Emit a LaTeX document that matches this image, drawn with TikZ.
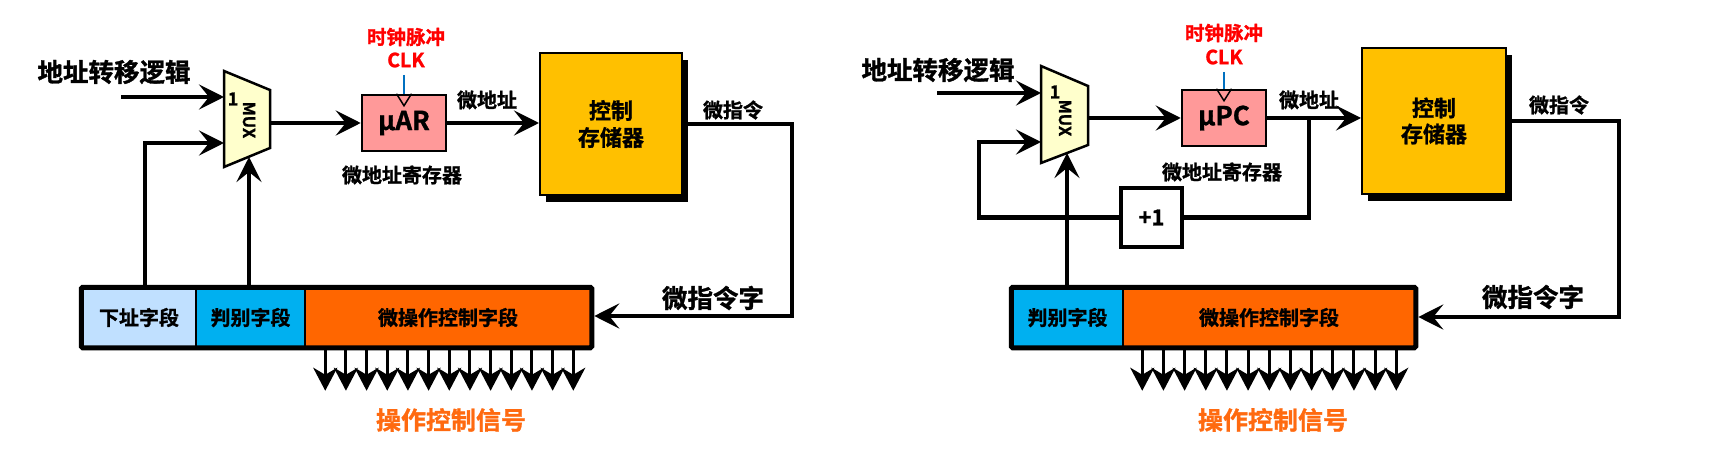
\documentclass[tikz,border=0pt]{standalone}
\usepackage{fontspec}
\setmainfont{Noto Sans CJK SC}[BoldFont={Noto Sans CJK SC Bold}, BoldFeatures={FakeBold=1.2}]
\usetikzlibrary{arrows.meta,shadows}
\definecolor{muxyellow}{HTML}{FFFFCC}
\definecolor{regpink}{HTML}{FF9999}
\definecolor{cmyellow}{HTML}{FFC000}
\definecolor{xiablue}{HTML}{C0E0FF}
\definecolor{panblue}{HTML}{00B0F0}
\definecolor{weiorange}{HTML}{FF6600}
\definecolor{sigorange}{HTML}{FF6A10}
\definecolor{clkblue}{HTML}{0070C0}
\begin{document}
\begin{tikzpicture}[x=1pt,y=-1pt,
  txt/.style={inner sep=0pt, font=\bfseries\fontsize{20}{22}\selectfont},
  bigtxt/.style={inner sep=0pt, font=\bfseries\fontsize{25.5}{27}\selectfont},
  clktxt/.style={inner sep=0pt, text=red, font=\bfseries\fontsize{19.5}{21}\selectfont},
  sigtxt/.style={inner sep=0pt, text=sigorange, font=\bfseries\fontsize{25}{27}\selectfont},
  muxtxt/.style={inner sep=0pt, font=\bfseries\fontsize{16.5}{18}\selectfont},
  onetxt/.style={inner sep=0pt, font=\bfseries\fontsize{18}{18}\selectfont},
  conn/.style={line width=4.5pt, -{Stealth[length=25pt,width=25pt,inset=10pt]}},
  wire/.style={line width=4.5pt},
  sig/.style={line width=3pt, -{Stealth[length=23pt,width=24pt,inset=7pt]}},
  muxshape/.style={draw=black, line width=2.5pt, fill=muxyellow, line join=miter},
  reg/.style={draw=black, line width=2.5pt, fill=regpink, minimum width=84pt, minimum height=56pt, inner sep=0pt, font=\bfseries\fontsize{26}{26}\selectfont},
  cmem/.style={draw=black, line width=2pt, fill=cmyellow, inner sep=0pt, align=center,
     font=\bfseries\fontsize{22}{27}\selectfont,
     drop shadow={shadow xshift=6pt, shadow yshift=-7pt, fill=black, opacity=1}},
  field/.style={draw=black, line width=1.5pt, minimum height=59pt, inner sep=0pt, font=\bfseries\fontsize{20}{22}\selectfont},
  outerbox/.style={draw=black, line width=5pt, rounded corners=1.5pt},
  clkline/.style={draw=clkblue, line width=2pt},
  clktri/.style={draw=black, line width=1.5pt, line join=miter},
  plusbox/.style={draw=black, line width=4pt, fill=white, minimum width=61pt, minimum height=59pt, inner sep=0pt, font=\bfseries\fontsize{22}{22}\selectfont}
]
\useasboundingbox (0,0) rectangle (1719,476);

% ================= LEFT =================
\node[bigtxt] (addrA) at (114,72) {地址转移逻辑};
\coordinate (in1A) at (121,97);
\draw[muxshape] (224,71) -- (270,90) -- (270,148) -- (224,167) -- cycle;
\coordinate (muxA-in1) at (224,97);
\coordinate (muxA-in2) at (224,143);
\coordinate (muxA-bot) at (249,157);
\coordinate (muxA-out) at (270,123);
\node[onetxt] (muxA-one) at (233,99) {1};
\node[muxtxt, rotate=-90] (muxA-lbl) at (249,120) {MUX};

\node[reg] (muar) at (404,123) {μAR};
\draw[clktri] ([xshift=-7.5pt]muar.north) -- ([yshift=-12pt]muar.north) -- ([xshift=7.5pt]muar.north);
\coordinate (clkA) at (404,75);
\draw[clkline] (clkA) -- (muar.north);
\node[clktxt] (clkA-t1) at (406,37) {时钟脉冲};
\node[clktxt] (clkA-t2) at (406,60) {CLK};
\node[txt] (regA-lbl) at (402,175) {微地址寄存器};

\node[cmem, minimum width=142pt, minimum height=142pt] (cmA) at (611,124) {控制\\存储器};
\node[txt] (uaddrA) at (487,100) {微地址};

\node[field, fill=xiablue, minimum width=114pt] (xiaA) at (139,317.5) {下址字段};
\node[field, fill=panblue, minimum width=109pt] (panA) at (250.5,317.5) {判别字段};
\node[field, fill=weiorange, minimum width=286pt] (weiA) at (448,317.5) {微操作控制字段};

\foreach \i in {0,...,12}
  \draw[sig] ([xshift=21pt+\i*20.67pt]weiA.south west) -- ++(0,43);
\draw[outerbox] (xiaA.north west) rectangle (weiA.south east);

\draw[conn] (in1A) -- (muxA-in1);
\draw[conn] ([xshift=6pt]xiaA.north) |- (muxA-in2);
\draw[conn] (muxA-bot |- panA.north) -- (muxA-bot);
\draw[conn] (muxA-out) -- (muar.west);
\draw[conn] (muar.east) -- (muar.east -| cmA.west);
\coordinate (loopA) at (792,316);
\draw[conn] (cmA.east) -| (loopA) -- ([xshift=2.5pt]loopA -| weiA.east);
\node[txt] (uinsA) at (733,110) {微指令};
\node[bigtxt] (uwordA) at (713,298) {微指令字};
\node[sigtxt] (sigA) at (451,420) {操作控制信号};

% ================= RIGHT =================
\node[bigtxt] (addrB) at (938,70) {地址转移逻辑};
\coordinate (in1B) at (937,93);
\draw[muxshape] (1041,66) -- (1088,86) -- (1088,145) -- (1041,163) -- cycle;
\coordinate (muxB-in1) at (1041,93);
\coordinate (muxB-in2) at (1041,142);
\coordinate (muxB-bot) at (1067,153);
\coordinate (muxB-out) at (1088,118);
\node[onetxt] (muxB-one) at (1055,92) {1};
\node[muxtxt, rotate=-90] (muxB-lbl) at (1065,118) {MUX};

\node[reg] (mupc) at (1224,118) {μPC};
\draw[clktri] ([xshift=-7.5pt]mupc.north) -- ([yshift=-12pt]mupc.north) -- ([xshift=7.5pt]mupc.north);
\coordinate (clkB) at (1224,72);
\draw[clkline] (clkB) -- (mupc.north);
\node[clktxt] (clkB-t1) at (1224,33) {时钟脉冲};
\node[clktxt] (clkB-t2) at (1224,57) {CLK};
\node[txt] (regB-lbl) at (1222,172) {微地址寄存器};

\node[cmem, minimum width=144pt, minimum height=146pt, font=\bfseries\fontsize{22}{26}\selectfont] (cmB) at (1434,121) {控制\\存储器};
\node[txt] (uaddrB) at (1309,100) {微地址};

\node[plusbox] (plus) at (1151.5,217.5) {+1};

\node[field, fill=panblue, minimum width=111pt] (panB) at (1067.5,317.5) {判别字段};
\node[field, fill=weiorange, minimum width=292pt] (weiB) at (1269,317.5) {微操作控制字段};
\foreach \i in {0,...,12}
  \draw[sig] ([xshift=20pt+\i*21.17pt]weiB.south west) -- ++(0,43);
\draw[outerbox] (panB.north west) rectangle (weiB.south east);

\draw[conn] (in1B) -- (muxB-in1);
\draw[conn] (muxB-bot |- panB.north) -- (muxB-bot);
\draw[conn] (muxB-out) -- (muxB-out -| mupc.west);
\draw[conn] (mupc.east) -- (mupc.east -| cmB.west);
\coordinate (tap) at (1309,118);
\draw[wire] (tap) |- (plus.east);
\coordinate (fbkB) at (979,142);
\draw[conn] (plus.west) -| (fbkB) -- (muxB-in2);
\coordinate (loopB) at (1619,317);
\draw[conn] (cmB.east) -| (loopB) -- ([xshift=2.5pt]loopB -| weiB.east);
\node[txt] (uinsB) at (1559,105) {微指令};
\node[bigtxt] (uwordB) at (1533,297) {微指令字};
\node[sigtxt] (sigB) at (1273,420) {操作控制信号};
\end{tikzpicture}
\end{document}
